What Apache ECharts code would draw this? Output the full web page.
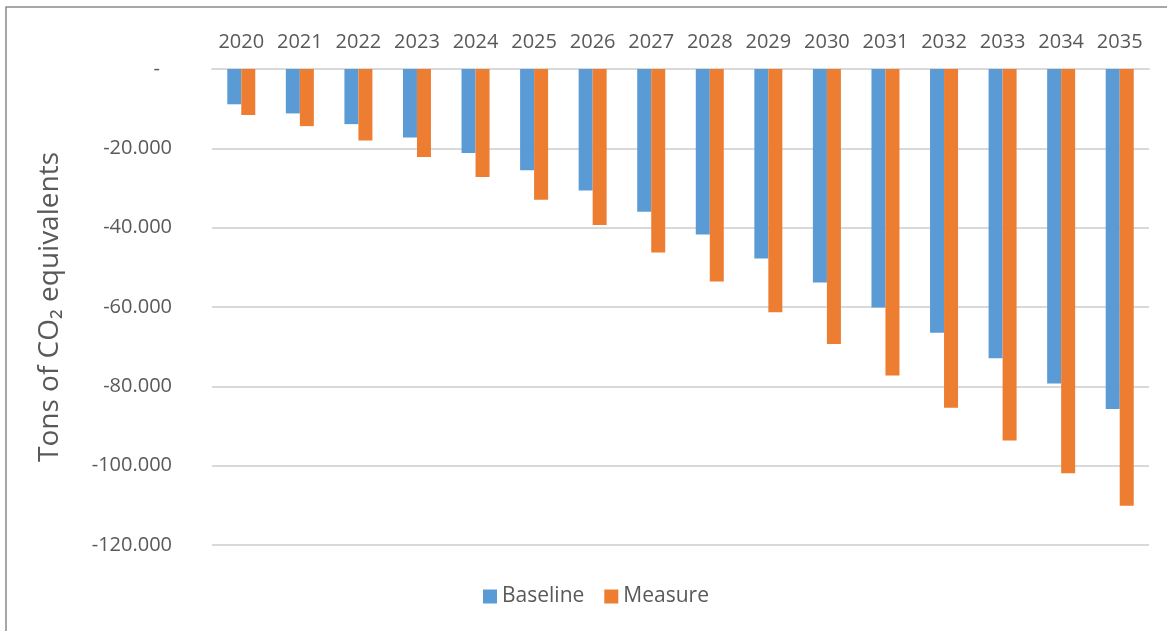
<!DOCTYPE html>
<html>
<head>
<meta charset="utf-8">
<script src="https://cdn.jsdelivr.net/npm/echarts@6/dist/echarts.min.js"></script>
<style>html,body{margin:0;padding:0;background:#fff}#c{width:1167px;height:631px}</style>
</head>
<body>
<div id="c"></div>
<script>
const years = ['2020','2021','2022','2023','2024','2025','2026','2027','2028','2029','2030','2031','2032','2033','2034','2035'];
const baseline = [-8900,-11200,-13900,-17300,-21200,-25550,-30600,-36000,-41700,-47750,-53800,-60100,-66500,-72900,-79300,-85700];
const measure = [-11600,-14400,-18000,-22200,-27250,-32950,-39300,-46250,-53550,-61300,-69300,-77250,-85400,-93650,-101900,-110100];
const yTicks = {min:-120000, max:0, interval:20000};

const FONT = '"Open Sans", "Liberation Sans", sans-serif';
const TXT = '#595959';
function fmt(v){
  if (v === 0) return '{z|-}';
  const s = Math.abs(v).toString().replace(/\B(?=(\d{3})+(?!\d))/g, '.');
  return (v < 0 ? '-' : '') + s;
}
const chart = echarts.init(document.getElementById('c'), null, {renderer:'canvas'});
chart.setOption({
  animation:false,
  backgroundColor:'#fff',
  textStyle:{fontFamily:FONT},
  graphic:[{type:'rect', shape:{x:6,y:7,width:1300,height:800}, style:{fill:null, stroke:'#8a8a8a', lineWidth:1.5}, silent:true, z:-1}],
  grid:{left:212, right:18, top:69, bottom:86},
  legend:{
    data:['Baseline','Measure'], bottom:19, left:478,
    icon:'rect', itemWidth:14, itemHeight:14, itemGap:20,
    textStyle:{color:TXT, fontSize:21, fontFamily:FONT}
  },
  xAxis:{
    type:'category', data:years, position:'top',
    axisLine:{show:true, lineStyle:{color:'#d9d9d9', width:2}},
    axisTick:{show:false},
    axisLabel:{color:TXT, fontSize:20, margin:17, fontFamily:FONT, interval:0}
  },
  yAxis:{
    type:'value', min:yTicks.min, max:yTicks.max, interval:yTicks.interval,
    name:'Tons of CO₂ equivalents', nameLocation:'middle', nameGap:148, nameRotate:90,
    nameTextStyle:{color:TXT, fontSize:28, fontFamily:FONT},
    axisLine:{show:false}, axisTick:{show:false},
    splitLine:{lineStyle:{color:'#d9d9d9', width:2}},
    axisLabel:{color:TXT, fontSize:20, margin:40, fontFamily:FONT, formatter:fmt,
      rich:{z:{color:TXT, fontSize:20, fontFamily:FONT, padding:[0,12,0,0]}}}
  },
  series:[
    {name:'Baseline', type:'bar', data:baseline, barWidth:14, barGap:'0%', itemStyle:{color:'#5B9BD5'}},
    {name:'Measure', type:'bar', data:measure, barWidth:14, barGap:'0%', itemStyle:{color:'#ED7D31'}}
  ]
});
</script>
</body>
</html>
